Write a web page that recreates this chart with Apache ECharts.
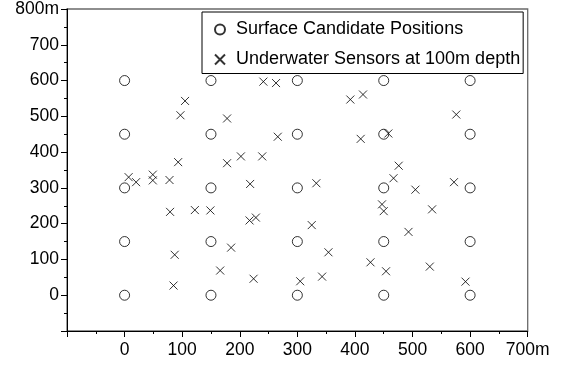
<!DOCTYPE html>
<html>
<head>
<meta charset="utf-8">
<script src="https://cdn.jsdelivr.net/npm/echarts@6/dist/echarts.min.js"></script>
<style>html,body{margin:0;padding:0;background:#fff;}#c{width:561px;height:366px;}</style>
</head>
<body>
<div id="c"></div>
<script>
const surfaceX = [0,0,0,0,0,150,150,150,150,150,300,300,300,300,300,450,450,450,450,450,600,600,600,600,600];
const surfaceY = [0,150,300,450,600,0,150,300,450,600,0,150,300,450,600,0,150,300,450,600,0,150,300,450,600];
const sensorX = [105,97,178,241,263,392,414,576,7,20,49,49,78,93,79,122,266,410,178,202,239,218,333,149,217,228,325,185,354,458,476,467,505,572,447,450,534,493,87,85,166,224,305,343,427,454,530,592];
const sensorY = [543,503,494,597,593,547,561,505,330,316,337,321,322,372,233,238,443,437,369,388,388,311,313,237,209,217,196,133,120,452,362,327,295,316,254,235,240,177,113,27,69,46,39,52,92,67,80,38];
const seriesNames = ['Surface Candidate Positions', 'Underwater Sensors at 100m depth'];
const xTickMax = 700, yTickMax = 800;

const FONT = '"Liberation Sans", Arial, sans-serif';
const surfaceData = surfaceX.map((x, i) => [x, surfaceY[i]]);
const sensorData = sensorX.map((x, i) => [x, sensorY[i]]);

const chart = echarts.init(document.getElementById('c'), null, {renderer: 'canvas'});
chart.setOption({
  animation: false,
  backgroundColor: '#fff',
  grid: {left: 67, right: 33.3, top: 5.7, bottom: 35, show: true, borderColor: '#6a6a6a', borderWidth: 1.3, backgroundColor: 'transparent'},
  legend: {
    orient: 'vertical', left: 202, top: 12,
    padding: [8.5, 3, 5, 10.5],
    itemGap: 12, itemWidth: 10, itemHeight: 10,
    borderColor: '#000', borderWidth: 1, backgroundColor: '#fff',
    textStyle: {fontFamily: FONT, fontSize: 18, color: '#000', padding: [0, 0, 0, 6]},
    data: seriesNames
  },
  xAxis: {
    type: 'value', min: -100, max: 700, interval: 100,
    axisLine: {onZero: false, lineStyle: {color: '#000', width: 1}},
    axisTick: {show: true, length: 6, lineStyle: {color: '#000'}},
    minorTick: {show: true, splitNumber: 2, length: 3, lineStyle: {color: '#000'}},
    splitLine: {show: false},
    axisLabel: {fontFamily: FONT, fontSize: 17.5, color: '#000', margin: 10,
      formatter: v => v < 0 ? '' : (v === xTickMax ? v + 'm' : String(v))}
  },
  yAxis: {
    type: 'value', min: -100, max: 800, interval: 100,
    axisLine: {onZero: false, lineStyle: {color: '#000', width: 1}},
    axisTick: {show: true, length: 6, lineStyle: {color: '#000'}},
    minorTick: {show: true, splitNumber: 2, length: 3, lineStyle: {color: '#000'}},
    splitLine: {show: false},
    axisLabel: {fontFamily: FONT, fontSize: 17.5, color: '#000', margin: 8,
      formatter: v => v < 0 ? '' : (v === yTickMax ? v + 'm' : String(v))}
  },
  series: [
    {
      name: seriesNames[0], type: 'scatter', data: surfaceData,
      symbol: 'circle', symbolSize: 10,
      itemStyle: {color: 'rgba(255,255,255,0)', borderColor: '#000', borderWidth: 1}
    },
    {
      name: seriesNames[1], type: 'scatter', data: sensorData,
      symbol: 'path://M0,0L10,10M10,0L0,10', symbolSize: 8,
      itemStyle: {color: 'none', borderColor: '#000', borderWidth: 1}
    }
  ]
});
</script>
</body>
</html>
